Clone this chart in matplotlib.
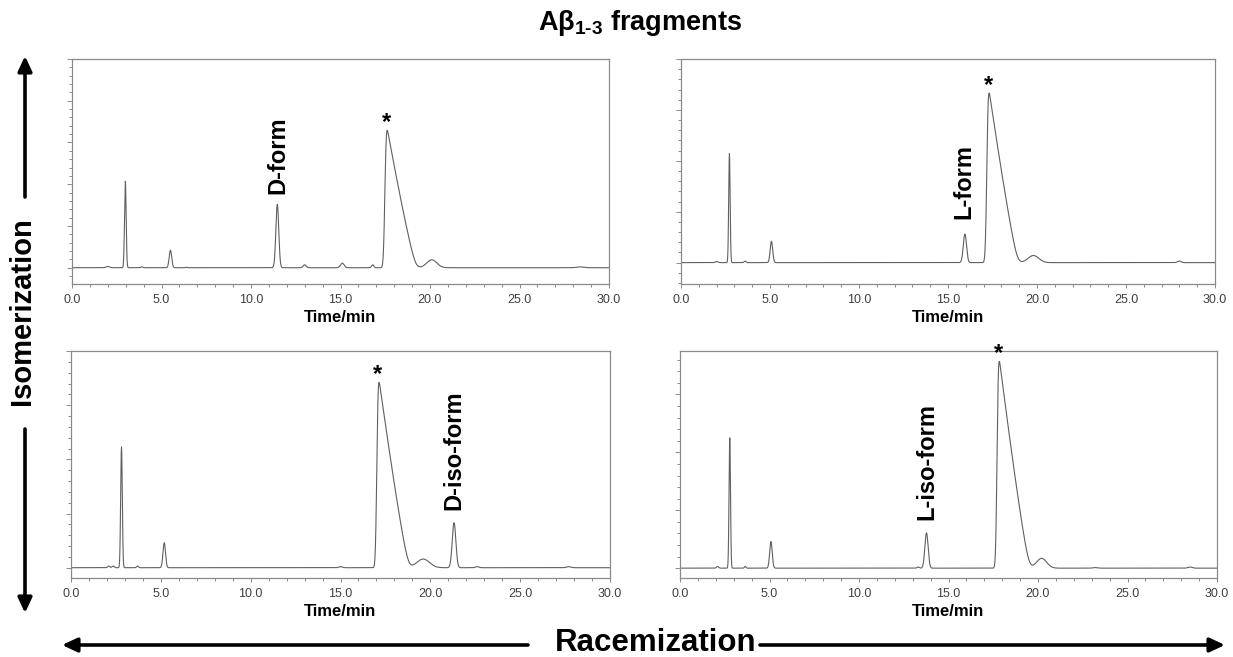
import numpy as np
import matplotlib
matplotlib.use("Agg")
import matplotlib.pyplot as plt
from matplotlib.patches import FancyArrowPatch
from matplotlib.ticker import MultipleLocator, FormatStrFormatter

plt.rcParams['font.family'] = ['Liberation Sans', 'DejaVu Sans']
plt.rcParams['mathtext.fontset'] = 'custom'
plt.rcParams['mathtext.rm'] = 'Liberation Sans:bold'
plt.rcParams['mathtext.bf'] = 'Liberation Sans:bold'
plt.rcParams['mathtext.it'] = 'Liberation Sans:bold:italic'

# ---------------- data ----------------
# minor peaks: retention time (min), height (a.u.), width (sigma, min)
tl_t = [2.98, 2.0, 3.9, 5.50, 6.4, 11.47, 13.0, 15.1, 16.8, 20.1, 28.4]
tl_h = [2.07, 0.03, 0.02, 0.42, 0.01, 1.52, 0.07, 0.11, 0.07, 0.19, 0.02]
tl_w = [0.045, 0.10, 0.06, 0.07, 0.05, 0.08, 0.08, 0.10, 0.06, 0.28, 0.20]
# main (*) peak: apex time, height, rise sigma, tail length to baseline (min)
tl_main = [17.55, 3.29, 0.06, 1.70]

tr_t = [2.72, 2.0, 3.6, 5.08, 15.95, 19.8, 28.0]
tr_h = [2.14, 0.02, 0.03, 0.42, 0.56, 0.14, 0.03]
tr_w = [0.04, 0.08, 0.05, 0.07, 0.09, 0.30, 0.10]
tr_main = [17.25, 3.33, 0.06, 1.70]

bl_t = [2.81, 2.1, 2.35, 3.7, 5.19, 15.0, 19.6, 21.32, 22.6, 27.7]
bl_h = [2.23, 0.03, 0.03, 0.03, 0.46, 0.02, 0.16, 0.83, 0.02, 0.02]
bl_w = [0.045, 0.06, 0.06, 0.05, 0.07, 0.10, 0.35, 0.10, 0.10, 0.12]
bl_main = [17.08, 3.42, 0.05, 1.75]

br_t = [2.78, 2.1, 3.64, 5.08, 13.3, 13.77, 20.2, 23.2, 28.5]
br_h = [2.25, 0.03, 0.03, 0.46, 0.02, 0.61, 0.17, 0.01, 0.02]
br_w = [0.04, 0.06, 0.04, 0.07, 0.06, 0.09, 0.28, 0.12, 0.12]
br_main = [17.77, 3.57, 0.05, 1.78]

# y-limits of each panel (same a.u.)
ylims = {'tl': (-0.39, 5.0), 'tr': (-0.42, 4.0), 'bl': (-0.19, 4.0), 'br': (-0.17, 3.75)}

# peak labels: text, time, bottom of text (a.u.)
labels = {
    'tl': ('D-form', 11.5, 1.76),
    'tr': ('L-form', 15.9, 0.85),
    'bl': ('D-iso-form', 21.32, 1.06),
    'br': ('L-iso-form', 13.77, 0.83),
}

x_ticks = [0, 5, 10, 15, 20, 25, 30]
x_range = (0.0, 30.0)

# ---------------- helpers ----------------
def softplus(r, k):
    return k * np.log1p(np.exp(r / k))

def trace(t, ts, hs, ws, main):
    y = np.zeros_like(t)
    for c, h, w in zip(ts, hs, ws):
        y += h * np.exp(-0.5 * ((t - c) / w) ** 2)
    c, h, wl, L = main
    left = np.exp(-0.5 * ((t - c) / wl) ** 2)
    r = 1 - np.abs(t - c) / L
    right = (softplus(r, 0.05) / softplus(1.0, 0.05)) ** 1.15
    shape = np.where(t < c, left, right)
    # round off the apex slightly (detector smoothing)
    dt = t[1] - t[0]
    k = np.arange(-60, 61) * dt
    kern = np.exp(-0.5 * (k / 0.05) ** 2)
    kern /= kern.sum()
    shape = np.convolve(shape, kern, mode='same')
    y += h * shape / shape.max()
    return y

W, H = 1233, 657
fig = plt.figure(figsize=(W / 100, H / 100), dpi=100)

def px_axes(l, r, top, bot):
    return fig.add_axes([l / W, 1 - bot / H, (r - l) / W, (bot - top) / H])

panels = {
    'tl': (px_axes(72, 609, 59, 284), tl_t, tl_h, tl_w, tl_main),
    'tr': (px_axes(681, 1215, 59, 284), tr_t, tr_h, tr_w, tr_main),
    'bl': (px_axes(71, 610, 351, 578), bl_t, bl_h, bl_w, bl_main),
    'br': (px_axes(680, 1217, 351, 578), br_t, br_h, br_w, br_main),
}

t = np.linspace(0, 30, 6000)
spine_col = '#8a8a8a'
for key, (ax, ts, hs, ws, main) in panels.items():
    y = trace(t, ts, hs, ws, main)
    ax.plot(t, y, color='#606060', lw=0.8)
    ax.set_xlim(*x_range)
    ax.set_ylim(*ylims[key])
    ax.set_xticks(x_ticks)
    ax.xaxis.set_major_formatter(FormatStrFormatter('%.1f'))
    ax.xaxis.set_minor_locator(MultipleLocator(1))
    ax.yaxis.set_major_locator(MultipleLocator(1))
    ax.yaxis.set_minor_locator(MultipleLocator(0.2))
    ax.tick_params(axis='y', which='both', labelleft=False, direction='out',
                   color=spine_col, width=0.7)
    ax.tick_params(axis='y', which='major', length=3.5)
    ax.tick_params(axis='y', which='minor', length=2)
    ax.tick_params(axis='x', which='both', direction='out', color=spine_col, width=0.7)
    ax.tick_params(axis='x', which='major', length=3, pad=4,
                   labelsize=9, labelcolor='#404040')
    ax.tick_params(axis='x', which='minor', length=2)
    for s in ax.spines.values():
        s.set_color(spine_col)
        s.set_linewidth(0.9)
    ax.set_xlabel('Time/min', fontsize=12, fontweight='bold',
                  family=['Liberation Sans Narrow', 'Liberation Sans'], labelpad=3)
    txt, lt, ly = labels[key]
    ax.text(lt, ly, txt, rotation=90, ha='center', va='bottom',
            fontsize=17, fontweight='bold')
    ax.annotate('*', xy=(main[0], main[1]), xytext=(0, 1), textcoords='offset points',
                ha='center', va='baseline', fontsize=17, fontweight='bold')

# ---------------- title and arrows ----------------
fig.text(640 / W, 1 - 30 / H, r'Aβ$_{\text{1-3}}$ fragments', ha='center',
         va='baseline', fontsize=19.5, fontweight='bold')

def arrow(x1, y1, x2, y2):
    a = FancyArrowPatch((x1 / W, 1 - y1 / H), (x2 / W, 1 - y2 / H),
                        transform=fig.transFigure,
                        arrowstyle='-|>,head_length=0.75,head_width=0.35',
                        mutation_scale=12, lw=2.6, color='black',
                        shrinkA=0, shrinkB=0)
    fig.add_artist(a)

arrow(25, 197, 25, 56)
arrow(25, 429, 25, 613)
arrow(528, 645, 62, 645)
arrow(760, 645, 1225, 645)

fig.text(22 / W, 1 - 311 / H, 'Isomerization', rotation=90, ha='center', va='center',
         fontsize=21, fontweight='bold')
fig.text(656 / W, 1 - 643 / H, 'Racemization', ha='center', va='center',
         fontsize=22.5, fontweight='bold')

fig.savefig('out.png', dpi=100)
